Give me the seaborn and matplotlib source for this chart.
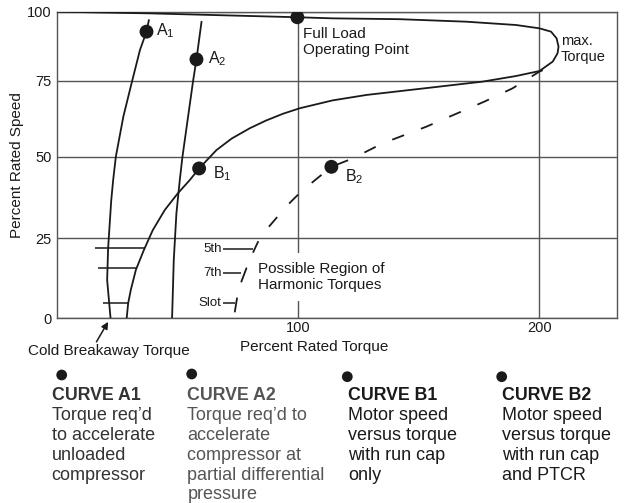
import numpy as np
import matplotlib
matplotlib.use('Agg')
import matplotlib.pyplot as plt
import seaborn as sns

# --- values (torque in % rated, speed in % rated) ---
a1_torque = [38.2, 37.2, 34.5, 31.0, 27.6, 24.5, 23.4, 22.6, 21.3, 20.9, 22.3]
a1_speed = [97.0, 92.8, 86.2, 74.2, 63.2, 50.0, 42.9, 36.7, 21.9, 11.9, 0.0]

a2_torque = [60.0, 57.9, 56.5, 52.1, 51.0, 49.6, 48.5, 47.8]
a2_speed = [96.4, 82.8, 75.0, 50.0, 42.9, 32.7, 18.2, 0.0]

b1_torque = [29.0, 29.6, 30.7, 32.8, 36.1, 39.8, 44.8, 50.2, 55.2, 59.0, 66.2, 72.5,
             80.0, 86.6, 93.8, 100.7, 114.3, 128.4, 155.8, 176.5, 190.3, 200.0,
             205.5, 207.5, 207.9, 207.1, 204.8, 200.0, 190.3, 169.6, 142.0, 114.4,
             99.7, 38.6, 0.0]
b1_speed = [0.0, 4.6, 8.8, 15.1, 21.3, 27.5, 33.7, 38.8, 42.9, 46.4, 52.2, 56.0,
            59.4, 61.9, 64.2, 66.0, 68.6, 70.4, 72.9, 74.8, 76.8, 78.6,
            82.0, 85.0, 87.4, 90.4, 92.8, 94.0, 95.2, 96.4, 97.3, 97.6,
            98.0, 99.4, 100.0]

b2_torque = [81.3, 84.1, 88.2, 92.4, 96.5, 100.7, 106.0, 113.8, 122.7, 135.0,
             153.1, 177.2, 188.9, 200.0, 202.7]
b2_speed = [20.5, 25.0, 28.8, 32.4, 35.8, 38.9, 42.2, 46.9, 49.5, 54.4,
            59.9, 68.2, 72.6, 78.4, 79.4]

# harmonic dips on curve B1 (horizontal strokes to the left of the curve)
b1_dip_speed = [21.9, 15.6, 4.6]
b1_dip_left = [15.8, 17.2, 19.3]
b1_dip_right = [36.4, 33.0, 29.6]

# harmonic dips below curve B2
harm_labels = ['5th', '7th', 'Slot']
harm_speed = [21.6, 14.0, 4.8]
harm_left = [68.9, 68.9, 68.9]
harm_right = [81.3, 76.5, 73.8]
b2_low_torque = [[76.5, 78.6], [73.8, 74.7]]
b2_low_speed = [[11.4, 15.6], [2.0, 6.2]]

# marked points
pt_names = ['A1', 'A2', 'B1', 'B2', 'full']
pt_torque = [37.2, 57.9, 59.0, 113.8, 99.7]
pt_speed = [92.8, 82.8, 46.4, 46.9, 98.0]

speed_ticks = [0, 25, 50, 75, 100]
torque_ticks = [100, 200]

legend_titles = ['CURVE A1', 'CURVE A2', 'CURVE B1', 'CURVE B2']
legend_lines = [
    ['Torque req\u2019d', 'to accelerate', 'unloaded', 'compressor'],
    ['Torque req\u2019d to', 'accelerate', 'compressor at', 'partial differential', 'pressure'],
    ['Motor speed', 'versus torque', 'with run cap', 'only'],
    ['Motor speed', 'versus torque', 'with run cap', 'and PTCR'],
]

# the speed axis of the original is hand drawn, its gridlines are unevenly spaced
tick_height = [0, 79.7, 161.3, 237.0, 306.3]
knots = [-100] + speed_ticks + [200]
heights = [-318.8] + tick_height + [583.5]


def fwd(v):
    return np.interp(v, knots, heights)


def inv(h):
    return np.interp(h, heights, knots)


sns.set_theme(style='white')
plt.rcParams['font.family'] = ['Liberation Sans', 'DejaVu Sans']

INK = '#1a1a1a'
GRID = '#555555'

W, H = 624, 503
fig = plt.figure(figsize=(W / 100, H / 100), dpi=100)
ax = fig.add_axes([56.7 / W, 1 - 318 / H, 560 / W, 306.3 / H])
ax.set_yscale('function', functions=(fwd, inv))
ax.set_xlim(0, 232)
ax.set_ylim(0, 100)

ax.set_xticks(torque_ticks)
ax.set_yticks(speed_ticks)
ax.set_axisbelow(True)
ax.grid(True, color=GRID, lw=1.0)
ax.tick_params(length=0, labelsize=10.5, colors=INK)
ax.tick_params(axis='y', pad=3.6)
ax.tick_params(axis='x', pad=2.5)
for sp in ax.spines.values():
    sp.set_color(GRID)
    sp.set_linewidth(1.0)

line_kw = dict(sort=False, estimator=None, color=INK, lw=1.3, ax=ax, zorder=3)
sns.lineplot(x=a1_torque, y=a1_speed, **line_kw)
sns.lineplot(x=a2_torque, y=a2_speed, **line_kw)
sns.lineplot(x=b1_torque, y=b1_speed, **line_kw)
sns.lineplot(x=b2_torque, y=b2_speed, linestyle=(0, (7, 10)), **line_kw)

ax.hlines(b1_dip_speed, b1_dip_left, b1_dip_right, color=INK, lw=1.1, zorder=3)
ax.hlines(harm_speed, harm_left, harm_right, color=INK, lw=1.1, zorder=3)
for tq, sp in zip(b2_low_torque, b2_low_speed):
    sns.lineplot(x=tq, y=sp, **line_kw)
for lab, s, x0 in zip(harm_labels, harm_speed, harm_left):
    ax.annotate(lab, (x0, s), xytext=(-1, 0), textcoords='offset points',
                ha='right', va='center', fontsize=9.5, color=INK)

sns.scatterplot(x=pt_torque, y=pt_speed, s=100, color=INK, edgecolor='none',
                ax=ax, zorder=4, legend=False)

sub_kw = dict(fontsize=11.5, color=INK, va='center', ha='left')
ax.text(41.0, 93.1, r'A$\mathregular{_1}$', **sub_kw)
ax.text(62.7, 83.2, r'A$\mathregular{_2}$', **sub_kw)
ax.text(64.8, 44.9, r'B$\mathregular{_1}$', **sub_kw)
ax.text(119.3, 43.9, r'B$\mathregular{_2}$', **sub_kw)

ax.text(102.0, 89.0, 'Full Load\nOperating Point', fontsize=11, color=INK,
        va='center', ha='left', linespacing=1.15)
ax.text(208.9, 86.5, 'max.\nTorque', fontsize=10.5, color=INK,
        va='center', ha='left', linespacing=1.15)
ax.text(83.4, 12.9, 'Possible Region of\nHarmonic Torques', fontsize=11, color=INK,
        va='center', ha='left', linespacing=1.15, zorder=2,
        bbox=dict(boxstyle='square,pad=0.6', fc='white', ec='none'))

ax.set_xlabel('Percent Rated Torque', fontsize=11, color=INK)
ax.xaxis.set_label_coords(0.46, -0.094)
ax.xaxis.label.set_va('center')
ax.set_ylabel('Percent Rated Speed', fontsize=11, color=INK)
ax.yaxis.set_label_coords(-0.071, 0.5)
ax.yaxis.label.set_va('center')

ax.annotate('', xy=(21.3, -1.2), xytext=(-8.4, -14.4), textcoords='offset points',
            annotation_clip=False,
            arrowprops=dict(arrowstyle='-|>', color=INK, lw=1.1, mutation_scale=10,
                            shrinkA=0, shrinkB=0))

# overlay in pixel units for the captions under the chart
lax = fig.add_axes([0, 0, 1, 1], zorder=-1)
lax.set_xlim(0, W)
lax.set_ylim(H, 0)
lax.axis('off')

lax.text(109.3, 350.7, 'Cold Breakaway Torque', fontsize=11, color=INK,
         ha='center', va='center')

col_left = [51.7, 187.3, 348.3, 501.7]
bullet_x = [61.7, 191.7, 347.3, 501.7]
bullet_y = [375.0, 374.0, 376.7, 376.7]
col_color = ['#333333', '#555555', INK, INK]
sns.scatterplot(x=bullet_x, y=bullet_y, s=60, color=INK, edgecolor='none',
                ax=lax, legend=False)
for i, (title, lines) in enumerate(zip(legend_titles, legend_lines)):
    x0 = col_left[i]
    lax.text(x0, 395.0, title, fontsize=12.8, fontweight='bold', color=col_color[i],
             ha='left', va='center')
    for j, ln in enumerate(lines):
        lax.text(x0, 415.7 + 19.8 * j, ln, fontsize=13, color=col_color[i],
                 ha='left', va='center')

fig.savefig('out.png', dpi=100, facecolor='white')
